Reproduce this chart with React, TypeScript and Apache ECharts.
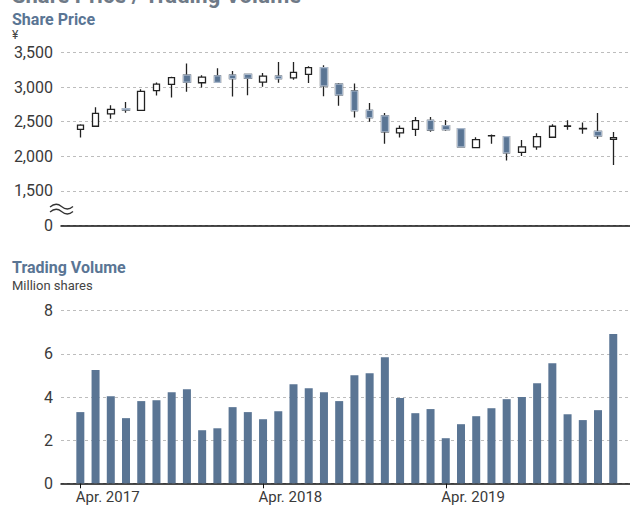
import React, { useEffect, useRef } from 'react';
import * as echarts from 'echarts';

const months = [
  '2017/04', '2017/05', '2017/06', '2017/07', '2017/08', '2017/09', '2017/10', '2017/11', '2017/12', '2018/01', '2018/02', '2018/03',
  '2018/04', '2018/05', '2018/06', '2018/07', '2018/08', '2018/09', '2018/10', '2018/11', '2018/12', '2019/01', '2019/02', '2019/03',
  '2019/04', '2019/05', '2019/06', '2019/07', '2019/08', '2019/09', '2019/10', '2019/11', '2019/12', '2020/01', '2020/02', '2020/03',
];

const opens = [2390, 2435, 2615, 2690, 2665, 2950, 3040, 3175, 3065, 3165, 3175, 3185, 3075, 3160, 3135, 3185, 3285, 3045, 2945, 2665, 2585, 2340, 2390, 2520, 2445, 2400, 2125, 2295, 2285, 2055, 2135, 2275, 2435, 2398, 2360, 2245];
const closes = [2450, 2620, 2680, 2670, 2940, 3045, 3140, 3075, 3145, 3070, 3125, 3130, 3160, 3125, 3215, 3285, 3020, 2890, 2660, 2560, 2355, 2405, 2515, 2380, 2385, 2135, 2240, 2300, 2050, 2135, 2285, 2435, 2440, 2402, 2295, 2270];
const lows = [2270, 2435, 2545, 2630, 2665, 2880, 2850, 2935, 2995, 3070, 2865, 2885, 3005, 3065, 3110, 3060, 2870, 2730, 2560, 2500, 2180, 2270, 2295, 2355, 2370, 2130, 2125, 2180, 1940, 2005, 2095, 2275, 2385, 2326, 2255, 1875];
const highs = [2465, 2710, 2740, 2785, 2970, 3070, 3150, 3345, 3175, 3275, 3235, 3185, 3205, 3365, 3365, 3305, 3320, 3060, 3055, 2770, 2625, 2445, 2570, 2570, 2525, 2405, 2275, 2315, 2295, 2235, 2335, 2465, 2520, 2490, 2625, 2350];

const volumes = [3.30, 5.25, 4.04, 3.02, 3.81, 3.85, 4.22, 4.36, 2.46, 2.55, 3.53, 3.30, 2.97, 3.34, 4.59, 4.41, 4.22, 3.81, 5.01, 5.10, 5.84, 3.95, 3.25, 3.44, 2.09, 2.74, 3.11, 3.48, 3.90, 4.00, 4.64, 5.57, 3.20, 2.93, 3.39, 6.92];

const xTickIndices = [0, 12, 24];
const xTickLabels = ['Apr. 2017', 'Apr. 2018', 'Apr. 2019'];
const priceTicks = [1000, 1500, 2000, 2500, 3000, 3500];

const BLUE = '#5a7594';
const FONT = 'Roboto';

echarts.graphic.registerShape(
  'waveBreak',
  echarts.graphic.extendPath(
    'M0,3 C4,-0.5 8,-0.5 11.5,2.5 C15,5.5 19,6 23,2.5 M0,8 C4,4.5 8,4.5 11.5,7.5 C15,10.5 19,11 23,7.5',
    {}
  )
);

export default function App() {
  const ref = useRef<HTMLDivElement>(null);

  useEffect(() => {
    document.body.style.margin = '0';
    const chart = echarts.init(ref.current!, null, { renderer: 'svg' });

    const candleData = months.map((_, i) => [i, opens[i], closes[i], lows[i], highs[i]]);
    const fallingBodies = months
      .map((_, i) => i)
      .filter((i) => opens[i] > closes[i])
      .map((i) => [i, opens[i], closes[i], closes[i], opens[i]]);
    const volData = months.map((_, i) => [i, volumes[i]]);

    const xMin = -1.27;
    const xMax = 36.1;

    const labelStyle = { color: '#3a3a3a', fontSize: 16, fontFamily: FONT };
    const dashed = { show: true, lineStyle: { color: '#bdbdbd', type: [3, 3] as any, width: 1 } };

    chart.setOption({
      animation: false,
      textStyle: { fontFamily: FONT },
      grid: [
        { left: 61, right: 0, top: 52.7, height: 172.6 },
        { left: 61, right: 0, top: 310.7, height: 172.6 },
      ],
      xAxis: [
        {
          type: 'value',
          gridIndex: 0,
          min: xMin,
          max: xMax,
          axisLine: { show: true, onZero: false, lineStyle: { color: '#111', width: 1.5 } },
          axisTick: { show: false },
          axisLabel: { show: false },
          splitLine: { show: false },
        },
        {
          type: 'value',
          gridIndex: 1,
          min: xMin,
          max: xMax,
          axisLine: { show: true, onZero: false, lineStyle: { color: '#111', width: 1.5 } },
          axisTick: { show: true, customValues: xTickIndices, length: 5, lineStyle: { color: '#111', width: 1 } },
          axisLabel: {
            show: true,
            customValues: xTickIndices.map((v) => v - 0.3),
            formatter: (v: number) => xTickLabels[Math.round((v + 0.3) / 12)] ?? '',
            align: 'left',
            margin: 6,
            color: '#3a3a3a',
            fontSize: 15,
            fontFamily: FONT,
          },
          splitLine: { show: false },
        },
      ],
      yAxis: [
        {
          type: 'value',
          gridIndex: 0,
          min: priceTicks[0],
          max: priceTicks[priceTicks.length - 1],
          interval: 500,
          axisLine: { show: false },
          axisTick: { show: false },
          axisLabel: {
            ...labelStyle,
            margin: 8,
            formatter: (v: number) => (v === priceTicks[0] ? '0' : v.toLocaleString('en-US')),
          },
          splitLine: dashed,
        },
        {
          type: 'value',
          gridIndex: 1,
          min: 0,
          max: 8,
          interval: 2,
          axisLine: { show: false },
          axisTick: { show: false },
          axisLabel: { ...labelStyle, margin: 8 },
          splitLine: dashed,
        },
      ],
      series: [
        {
          type: 'candlestick',
          xAxisIndex: 0,
          yAxisIndex: 0,
          barWidth: 7,
          data: candleData,
          itemStyle: {
            color: '#ffffff',
            color0: BLUE,
            borderColor: '#222222',
            borderColor0: '#222222',
            borderWidth: 1.3,
          },
        },
        {
          type: 'candlestick',
          xAxisIndex: 0,
          yAxisIndex: 0,
          barWidth: 7,
          data: fallingBodies,
          itemStyle: {
            color: BLUE,
            color0: BLUE,
            borderColor: '#a8b7ca',
            borderColor0: '#a8b7ca',
            borderWidth: 1.2,
          },
        },
        {
          type: 'bar',
          xAxisIndex: 1,
          yAxisIndex: 1,
          barWidth: 8,
          data: volData,
          itemStyle: { color: BLUE },
        },
      ],
      graphic: [
        {
          type: 'text',
          x: 12,
          y: -5,
          style: { text: 'Share Price / Trading Volume', fill: '#6f7a87', font: 'bold 22px Roboto', verticalAlign: 'middle' },
        },
        {
          type: 'text',
          x: 12,
          y: 19,
          style: { text: 'Share Price', fill: BLUE, font: 'bold 16px Roboto', verticalAlign: 'middle' },
        },
        {
          type: 'text',
          x: 12,
          y: 35,
          style: { text: '¥', fill: '#444', font: '12px Roboto', verticalAlign: 'middle' },
        },
        {
          type: 'text',
          x: 12,
          y: 267,
          style: { text: 'Trading Volume', fill: BLUE, font: 'bold 16px Roboto', verticalAlign: 'middle' },
        },
        {
          type: 'text',
          x: 12,
          y: 285,
          style: { text: 'Million shares', fill: '#444', font: '13px Roboto', verticalAlign: 'middle' },
        },
        {
          type: 'waveBreak',
          x: 50,
          y: 204,
          style: { stroke: '#333', fill: 'none', lineWidth: 1.3 },
        },
      ],
    });

    return () => chart.dispose();
  }, []);

  return <div ref={ref} style={{ width: 630, height: 506 }} />;
}
